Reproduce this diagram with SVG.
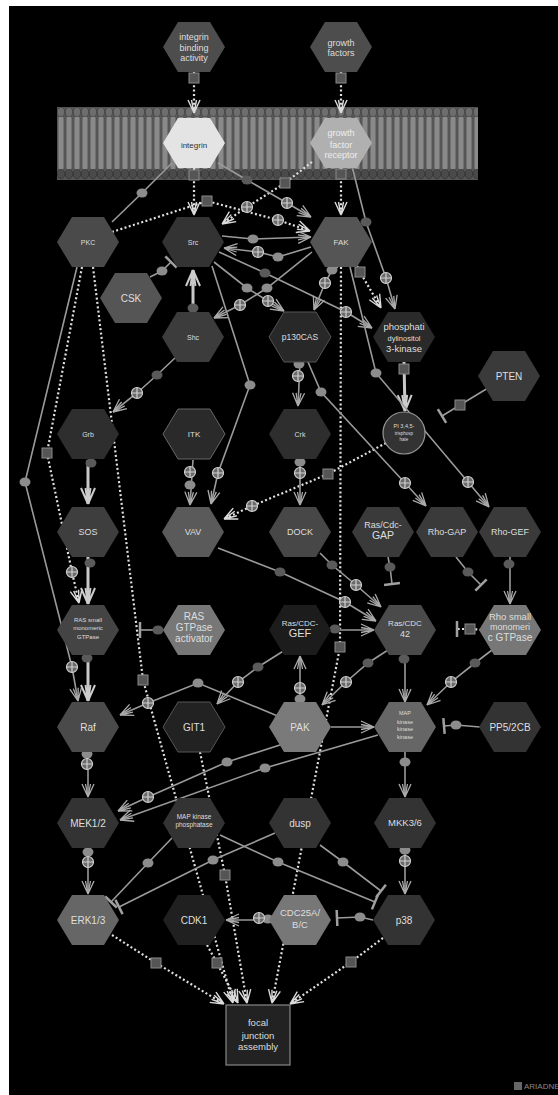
<svg xmlns="http://www.w3.org/2000/svg" xmlns:xlink="http://www.w3.org/1999/xlink" width="558" height="1095" viewBox="0 0 558 1095">
<style>
.t{font-family:"Liberation Sans",Arial,sans-serif;fill:#dedede;text-anchor:middle}
.d{fill:none;stroke:#e0e0e0;stroke-width:2.2;stroke-dasharray:2 2.4}
.s{fill:none;stroke:#9a9a9a;stroke-width:1.6}
.k{fill:none;stroke:#c8c8c8;stroke-width:3}
</style>
<defs>
<pattern id="lip" x="57" y="107" width="8" height="73" patternUnits="userSpaceOnUse">
<rect width="8" height="73" fill="#555"/>
<rect x="1.5" y="9" width="5" height="54" rx="2.5" fill="#8a8a8a"/>
<ellipse cx="4" cy="5" rx="3.6" ry="4.5" fill="#6e6e6e" stroke="#444" stroke-width="0.8"/>
<ellipse cx="4" cy="67" rx="3.6" ry="4.5" fill="#4a4a4a" stroke="#333" stroke-width="0.8"/>
</pattern>
<polygon id="hx" points="-31,0 -16,-25 16,-25 31,0 16,25 -16,25"/>
<g id="dt"><ellipse rx="5.5" ry="4.5" fill="#8c8c8c"/></g>
<g id="dd"><ellipse rx="5.5" ry="4.5" fill="#5a5a5a"/></g>
<g id="op"><circle r="5.5" fill="#6a6a6a" stroke="#cfcfcf" stroke-width="1.2"/><path d="M-5.5,0H5.5M0,-5.5V5.5" stroke="#cfcfcf" stroke-width="1.2"/></g>
<g id="sq"><rect x="-5" y="-5" width="10" height="10" fill="#555" stroke="#8a8a8a"/></g>
<marker id="a" viewBox="-14 -7 15 14" refX="0" refY="0" markerWidth="15" markerHeight="14" markerUnits="userSpaceOnUse" orient="auto">
<path d="M0,0L-13,-6M0,0L-13,6M0,0L-13,-2.5M0,0L-13,2.5" fill="none" stroke="#ababab" stroke-width="1.3"/>
</marker>
<marker id="aw" viewBox="-14 -7 15 14" refX="0" refY="0" markerWidth="15" markerHeight="14" markerUnits="userSpaceOnUse" orient="auto">
<path d="M0,0L-13,-6M0,0L-13,6M0,0L-13,-2.5M0,0L-13,2.5" fill="none" stroke="#dcdcdc" stroke-width="1.4"/>
</marker>
<marker id="at" viewBox="-17 -8 18 16" refX="0" refY="0" markerWidth="18" markerHeight="16" markerUnits="userSpaceOnUse" orient="auto">
<path d="M0,0L-16,-7M0,0L-16,7M0,0L-16,-2.5M0,0L-16,2.5" fill="none" stroke="#cccccc" stroke-width="2"/>
</marker>
<marker id="t" viewBox="-2 -9 4 18" refX="0" refY="0" markerWidth="4" markerHeight="18" markerUnits="userSpaceOnUse" orient="auto">
<path d="M0,-8V8" stroke="#a0a0a0" stroke-width="2.5"/>
</marker>
</defs>

<rect width="558" height="1095" fill="#fff"/>
<rect x="9" y="6" width="549" height="1089" fill="#000"/>

<g id="membrane">
<rect x="57" y="107" width="421" height="73" fill="url(#lip)"/>
</g>

<g id="connectors">
<polyline class="d" points="194,72 194,113" marker-end="url(#aw)"/>
<polyline class="d" points="341,72 341,113" marker-end="url(#aw)"/>
<polyline class="d" points="194,168 194,215" marker-end="url(#aw)"/>
<polyline class="d" points="341,168 341,215" marker-end="url(#aw)"/>
<polyline class="d" points="312,162 285,183 247,207 222,224" marker-end="url(#aw)"/>
<polyline class="d" points="112,232 207,201 278,220 310,231" marker-end="url(#aw)"/>
<polyline class="d" points="355,262 360,272 381,308" marker-end="url(#aw)"/>
<polyline class="d" points="82,267 47,453 72,572 79,603" marker-end="url(#aw)"/>
<polyline class="d" points="93,267 143,680 233,1003" marker-end="url(#aw)"/>
<polyline class="d" points="386,443 328,474 252,506 224,519" marker-end="url(#aw)"/>
<polyline class="d" points="341,267 340,647 272,1003" marker-end="url(#aw)"/>
<polyline class="d" points="200,752 225,875 247,1003" marker-end="url(#aw)"/>
<polyline class="d" points="207,945 217,963 238,1003" marker-end="url(#aw)"/>
<polyline class="d" points="112,935 156,963 224,1004" marker-end="url(#aw)"/>
<polyline class="d" points="383,938 351,962 290,1004" marker-end="url(#aw)"/>
<polyline class="d" points="486,630 470,629 457,629" marker-end="url(#t)"/>

<polyline class="s" points="172,163 142,193 112,222"/>
<polyline class="s" points="218,163 247,180 287,203 311,217" marker-end="url(#a)"/>
<polyline class="s" points="352,166 366,222 386,278 395,309" marker-end="url(#a)"/>
<polyline class="s" points="222,236 253,239 311,237" marker-end="url(#a)"/>
<polyline class="s" points="311,247 278,257 258,252 224,248" marker-end="url(#a)"/>
<polyline class="s" points="219,252 265,273 346,312 372,328" marker-end="url(#a)"/>
<polyline class="s" points="214,262 247,288 268,301 284,311" marker-end="url(#a)"/>
<polyline class="s" points="338,267 332,270 325,283 314,310" marker-end="url(#a)"/>
<polyline class="s" points="312,252 267,288 240,305 214,318" marker-end="url(#a)"/>
<polyline class="k" points="193,312 193,270" marker-end="url(#at)"/>
<polyline class="s" points="150,277 162,271 171,262" marker-end="url(#t)"/>
<polyline class="s" points="212,266 250,385 218,473 211,504" marker-end="url(#a)"/>
<polyline class="s" points="193,460 190,505" marker-end="url(#a)"/>
<polyline class="s" points="176,357 157,375 137,393 113,412" marker-end="url(#a)"/>
<polyline class="k" points="88,460 88,504" marker-end="url(#at)"/>
<polyline class="k" points="88,557 88,604" marker-end="url(#at)"/>
<polyline class="k" points="88,655 88,701" marker-end="url(#at)"/>
<polyline class="s" points="77,267 25,482 72,667 78,701" marker-end="url(#a)"/>
<polyline class="s" points="163,630 140,630" marker-end="url(#t)"/>
<polyline class="s" points="300,362 298,406" marker-end="url(#a)"/>
<polyline class="s" points="308,362 321,392 405,483 426,506" marker-end="url(#a)"/>
<polyline class="k" points="404,362 405,411" marker-end="url(#at)"/>
<polyline class="s" points="488,388 460,405 442,416" marker-end="url(#t)"/>
<polyline class="s" points="350,267 376,373 468,482 489,507" marker-end="url(#a)"/>
<polyline class="s" points="300,460 300,505" marker-end="url(#a)"/>
<polyline class="s" points="218,548 280,572 345,602 376,621" marker-end="url(#a)"/>
<polyline class="s" points="320,553 332,565 356,585 381,607" marker-end="url(#a)"/>
<polyline class="s" points="388,557 390,567 392,584" marker-end="url(#t)"/>
<polyline class="s" points="456,557 468,572 481,585" marker-end="url(#t)"/>
<polyline class="s" points="510,557 510,604" marker-end="url(#a)"/>
<polyline class="s" points="330,630 374,630" marker-end="url(#a)"/>
<polyline class="s" points="300,702 300,656" marker-end="url(#a)"/>
<polyline class="s" points="405,655 405,702" marker-end="url(#a)"/>
<polyline class="s" points="388,650 368,663 346,682 322,705" marker-end="url(#a)"/>
<polyline class="s" points="492,650 475,663 451,682 427,705" marker-end="url(#a)"/>
<polyline class="s" points="331,727 374,727" marker-end="url(#a)"/>
<polyline class="s" points="480,727 456,725 444,726" marker-end="url(#t)"/>
<polyline class="s" points="285,650 258,667 238,682 217,704" marker-end="url(#a)"/>
<polyline class="s" points="280,717 198,683 148,703 120,715" marker-end="url(#a)"/>
<polyline class="s" points="283,744 227,762 148,797 118,811" marker-end="url(#a)"/>
<polyline class="s" points="378,735 265,768 120,820" marker-end="url(#a)"/>
<polyline class="s" points="88,752 88,797" marker-end="url(#a)"/>
<polyline class="s" points="405,752 405,797" marker-end="url(#a)"/>
<polyline class="s" points="88,848 88,894" marker-end="url(#a)"/>
<polyline class="s" points="405,848 405,894" marker-end="url(#a)"/>
<polyline class="s" points="172,838 148,863 111,902" marker-end="url(#t)"/>
<polyline class="s" points="275,833 213,860 119,907" marker-end="url(#t)"/>
<polyline class="s" points="320,845 343,862 381,891" marker-end="url(#t)"/>
<polyline class="s" points="220,835 278,862 375,902" marker-end="url(#t)"/>
<polyline class="s" points="269,920 226,920" marker-end="url(#a)"/>
<polyline class="s" points="373,920 360,917 337,918" marker-end="url(#t)"/>

<use href="#sq" x="194" y="78"/><use href="#sq" x="341" y="78"/>
<use href="#sq" x="194" y="175"/><use href="#sq" x="341" y="174"/>
<use href="#sq" x="285" y="183"/><use href="#op" x="247" y="207"/>
<use href="#sq" x="207" y="201"/><use href="#op" x="278" y="220"/>
<use href="#sq" x="360" y="272"/>
<use href="#sq" x="47" y="453"/><use href="#op" x="72" y="572"/>
<use href="#sq" x="143" y="680"/>
<use href="#sq" x="328" y="474"/><use href="#op" x="252" y="506"/>
<use href="#sq" x="340" y="647"/>
<use href="#sq" x="225" y="875"/>
<use href="#sq" x="217" y="963"/>
<use href="#sq" x="156" y="963"/>
<use href="#sq" x="351" y="962"/>
<use href="#sq" x="470" y="629"/>
<use href="#dt" x="142" y="193"/>
<use href="#dd" x="247" y="180"/><use href="#op" x="287" y="203"/>
<use href="#dd" x="366" y="222"/><use href="#op" x="386" y="278"/>
<use href="#dt" x="253" y="239"/>
<use href="#dt" x="278" y="257"/><use href="#op" x="258" y="252"/>
<use href="#dd" x="265" y="273"/><use href="#op" x="346" y="312"/>
<use href="#dt" x="247" y="288"/><use href="#op" x="268" y="301"/>
<use href="#dt" x="332" y="270"/><use href="#op" x="325" y="283"/>
<use href="#dt" x="267" y="288"/><use href="#op" x="240" y="305"/>
<use href="#dd" x="193" y="308"/>
<use href="#dt" x="162" y="271"/>
<use href="#dt" x="250" y="385"/><use href="#op" x="218" y="473"/>
<use href="#op" x="190" y="472"/><use href="#dt" x="190" y="485"/>
<use href="#dd" x="157" y="375"/><use href="#op" x="137" y="393"/>
<use href="#dd" x="91" y="463"/>
<use href="#dd" x="90" y="563"/>
<use href="#dd" x="87" y="658"/>
<use href="#dt" x="25" y="482"/><use href="#op" x="72" y="667"/>
<use href="#dd" x="158" y="630"/>
<use href="#dt" x="299" y="364"/><use href="#op" x="298" y="376"/>
<use href="#dt" x="321" y="392"/><use href="#op" x="405" y="483"/>
<use href="#sq" x="404" y="369"/>
<use href="#sq" x="460" y="405"/>
<use href="#dt" x="376" y="373"/><use href="#op" x="468" y="482"/>
<use href="#dt" x="300" y="462"/><use href="#op" x="300" y="473"/>
<use href="#dd" x="280" y="572"/><use href="#op" x="345" y="602"/>
<use href="#dd" x="332" y="565"/><use href="#op" x="356" y="585"/>
<use href="#dd" x="390" y="567"/>
<use href="#dd" x="468" y="572"/>
<use href="#dd" x="509" y="564"/>
<use href="#dd" x="335" y="629"/>
<use href="#dt" x="300" y="699"/><use href="#op" x="300" y="688"/>
<use href="#dd" x="404" y="659"/>
<use href="#dd" x="368" y="663"/><use href="#op" x="346" y="682"/>
<use href="#dd" x="475" y="663"/><use href="#op" x="451" y="682"/>
<use href="#dt" x="456" y="725"/>
<use href="#dd" x="258" y="667"/><use href="#op" x="238" y="682"/>
<use href="#dt" x="198" y="683"/><use href="#op" x="148" y="703"/>
<use href="#dt" x="227" y="762"/><use href="#op" x="148" y="797"/>
<use href="#dt" x="265" y="768"/>
<use href="#dt" x="87" y="754"/><use href="#op" x="87" y="764"/>
<use href="#dt" x="405" y="762"/>
<use href="#dt" x="88" y="852"/><use href="#op" x="88" y="862"/>
<use href="#dt" x="405" y="850"/><use href="#op" x="405" y="861"/>
<use href="#dt" x="148" y="863"/>
<use href="#dt" x="213" y="860"/>
<use href="#dt" x="343" y="862"/>
<use href="#dt" x="278" y="862"/>
<use href="#dt" x="268" y="919"/><use href="#op" x="259" y="918"/>
<use href="#dt" x="360" y="917"/>
</g>

<g id="n-iba"><use href="#hx" x="194" y="47" fill="#4d4d4d"/><text class="t" x="194" y="40" font-size="9">integrin</text><text class="t" x="194" y="51" font-size="9">binding</text><text class="t" x="194" y="61" font-size="9">activity</text></g>
<g id="n-gf"><use href="#hx" x="341" y="47" fill="#4d4d4d"/><text class="t" x="341" y="46" font-size="9">growth</text><text class="t" x="341" y="56" font-size="9">factors</text></g>
<g id="n-integrin"><use href="#hx" x="194" y="143" fill="#e4e4e4"/><text class="t" x="194" y="148" font-size="8" style="fill:#333">integrin</text></g>
<g id="n-gfr"><use href="#hx" x="341" y="143" fill="#b0b0b0"/><text class="t" x="341" y="136" font-size="9" style="fill:#eee">growth</text><text class="t" x="341" y="148" font-size="9" style="fill:#eee">factor</text><text class="t" x="341" y="158" font-size="9" style="fill:#eee">receptor</text></g>
<g id="n-pkc"><use href="#hx" x="88" y="242" fill="#4a4a4a"/><text class="t" x="88" y="245" font-size="7">PKC</text></g>
<g id="n-src"><use href="#hx" x="193" y="242" fill="#333"/><text class="t" x="193" y="245" font-size="7">Src</text></g>
<g id="n-fak"><use href="#hx" x="341" y="242" fill="#555"/><text class="t" x="341" y="245" font-size="8">FAK</text></g>
<g id="n-csk"><use href="#hx" x="131" y="298" fill="#555"/><text class="t" x="131" y="302" font-size="10">CSK</text></g>
<g id="n-shc"><use href="#hx" x="193" y="337" fill="#3c3c3c"/><text class="t" x="193" y="340" font-size="7">Shc</text></g>
<g id="n-p130"><use href="#hx" x="300" y="337" fill="#282828" stroke="#555"/><text class="t" x="300" y="340" font-size="8.5">p130CAS</text></g>
<g id="n-pi3k"><use href="#hx" x="404" y="337" fill="#2a2a2a"/><text class="t" x="404" y="330" font-size="9.5">phosphati</text><text class="t" x="404" y="341" font-size="7.5">dylinositol</text><text class="t" x="404" y="352" font-size="9.5">3-kinase</text></g>
<g id="n-pten"><use href="#hx" x="509" y="376" fill="#3a3a3a"/><text class="t" x="509" y="380" font-size="10">PTEN</text></g>
<g id="n-pip3"><circle cx="404" cy="433" r="21" fill="#333" stroke="#999" stroke-width="1.2"/><text class="t" x="404" y="428" font-size="5.5">PI 3,4,5-</text><text class="t" x="404" y="434.5" font-size="4.5">trisphosp</text><text class="t" x="404" y="441" font-size="4.5">hate</text></g>
<g id="n-grb"><use href="#hx" x="88" y="434" fill="#2e2e2e"/><text class="t" x="88" y="437" font-size="7">Grb</text></g>
<g id="n-itk"><use href="#hx" x="194" y="434" fill="#2a2a2a" stroke="#666"/><text class="t" x="194" y="437" font-size="8">ITK</text></g>
<g id="n-crk"><use href="#hx" x="300" y="434" fill="#2e2e2e"/><text class="t" x="300" y="437" font-size="7">Crk</text></g>
<g id="n-sos"><use href="#hx" x="88" y="532" fill="#3e3e3e"/><text class="t" x="88" y="535" font-size="9">SOS</text></g>
<g id="n-vav"><use href="#hx" x="193" y="532" fill="#5a5a5a"/><text class="t" x="193" y="535" font-size="9">VAV</text></g>
<g id="n-dock"><use href="#hx" x="300" y="532" fill="#474747"/><text class="t" x="300" y="535" font-size="9">DOCK</text></g>
<g id="n-rascdcgap"><use href="#hx" x="383" y="532" fill="#3a3a3a"/><text class="t" x="383" y="528" font-size="9">Ras/Cdc-</text><text class="t" x="383" y="539" font-size="10.5">GAP</text></g>
<g id="n-rhogap"><use href="#hx" x="447" y="532" fill="#3a3a3a"/><text class="t" x="447" y="535" font-size="9">Rho-GAP</text></g>
<g id="n-rhogef"><use href="#hx" x="510" y="532" fill="#3a3a3a"/><text class="t" x="510" y="535" font-size="9">Rho-GEF</text></g>
<g id="n-rassmall"><use href="#hx" x="88" y="630" fill="#444"/><text class="t" x="88" y="622" font-size="6">RAS small</text><text class="t" x="88" y="630" font-size="6">monomeric</text><text class="t" x="88" y="639" font-size="6">GTPase</text></g>
<g id="n-rasact"><use href="#hx" x="194" y="630" fill="#777"/><text class="t" x="194" y="620" font-size="10">RAS</text><text class="t" x="194" y="631" font-size="10">GTPase</text><text class="t" x="194" y="642" font-size="10">activator</text></g>
<g id="n-rascdcgef"><use href="#hx" x="300" y="630" fill="#1c1c1c"/><text class="t" x="300" y="626" font-size="8">Ras/CDC-</text><text class="t" x="300" y="637" font-size="11">GEF</text></g>
<g id="n-rascdc42"><use href="#hx" x="405" y="630" fill="#4a4a4a"/><text class="t" x="405" y="626" font-size="8">Ras/CDC</text><text class="t" x="405" y="637" font-size="9">42</text></g>
<g id="n-rhosmall"><use href="#hx" x="510" y="630" fill="#777"/><text class="t" x="510" y="620" font-size="9.5">Rho small</text><text class="t" x="510" y="630" font-size="9">monomeri</text><text class="t" x="510" y="641" font-size="10">c GTPase</text></g>
<g id="n-raf"><use href="#hx" x="88" y="727" fill="#4a4a4a"/><text class="t" x="88" y="731" font-size="10">Raf</text></g>
<g id="n-git1"><use href="#hx" x="194" y="727" fill="#222" stroke="#555"/><text class="t" x="194" y="731" font-size="10">GIT1</text></g>
<g id="n-pak"><use href="#hx" x="300" y="727" fill="#7a7a7a"/><text class="t" x="300" y="731" font-size="10">PAK</text></g>
<g id="n-mapkkk"><use href="#hx" x="405" y="727" fill="#666"/><text class="t" x="405" y="715" font-size="5.5">MAP</text><text class="t" x="405" y="724" font-size="5.5">kinase</text><text class="t" x="405" y="731" font-size="5.5">kinase</text><text class="t" x="405" y="739" font-size="5.5">kinase</text></g>
<g id="n-pp5"><use href="#hx" x="510" y="727" fill="#333"/><text class="t" x="510" y="731" font-size="10">PP5/2CB</text></g>
<g id="n-mek"><use href="#hx" x="88" y="823" fill="#333"/><text class="t" x="88" y="827" font-size="10">MEK1/2</text></g>
<g id="n-mkp"><use href="#hx" x="194" y="823" fill="#333"/><text class="t" x="194" y="819" font-size="6.5">MAP kinase</text><text class="t" x="194" y="827" font-size="6.5">phosphatase</text></g>
<g id="n-dusp"><use href="#hx" x="300" y="823" fill="#333"/><text class="t" x="300" y="827" font-size="10">dusp</text></g>
<g id="n-mkk"><use href="#hx" x="405" y="823" fill="#333"/><text class="t" x="405" y="826" font-size="9.5">MKK3/6</text></g>
<g id="n-erk"><use href="#hx" x="88" y="920" fill="#666"/><text class="t" x="88" y="924" font-size="10">ERK1/3</text></g>
<g id="n-cdk1"><use href="#hx" x="194" y="920" fill="#202020"/><text class="t" x="194" y="924" font-size="10">CDK1</text></g>
<g id="n-cdc25"><use href="#hx" x="300" y="920" fill="#777"/><text class="t" x="300" y="916" font-size="9.5">CDC25A/</text><text class="t" x="300" y="928" font-size="9.5">B/C</text></g>
<g id="n-p38"><use href="#hx" x="404" y="920" fill="#333"/><text class="t" x="404" y="924" font-size="10">p38</text></g>
<g id="n-focal"><rect x="226" y="1005" width="64" height="60" fill="#222" stroke="#888" stroke-width="1.2"/><text class="t" x="258" y="1026" font-size="9.5">focal</text><text class="t" x="258" y="1039" font-size="9.5">junction</text><text class="t" x="258" y="1050" font-size="9.5">assembly</text></g>
<g id="logo"><rect x="514" y="1082" width="8" height="8" fill="#666"/><text x="524" y="1089" font-family="Liberation Sans,Arial,sans-serif" font-size="8" fill="#888">ARIADNE</text></g>
</svg>
